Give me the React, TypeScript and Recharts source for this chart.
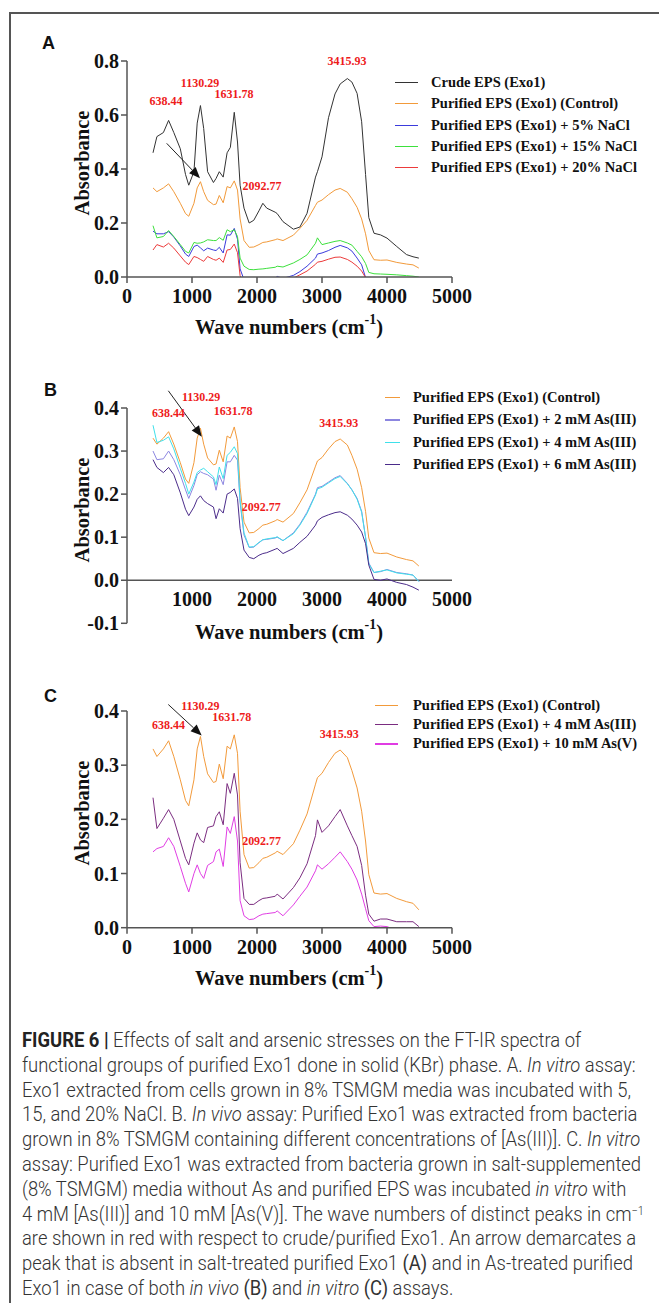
import React from 'react'
import { LineChart, Line, XAxis, YAxis, ReferenceLine, ReferenceDot } from 'recharts'

const WAVE = [400, 460, 560, 640, 720, 820, 900, 950, 1030, 1080, 1130, 1180, 1240, 1330, 1370, 1420, 1480, 1540, 1590, 1650, 1700, 1740, 1800, 1880, 1950, 2030, 2090, 2150, 2280, 2310, 2400, 2560, 2660, 2770, 2900, 2930, 3000, 3100, 3200, 3280, 3390, 3460, 3540, 3610, 3670, 3720, 3800, 3900, 4000, 4150, 4300, 4400, 4490]

const CRUDE = [0.46, 0.52, 0.535, 0.58, 0.535, 0.475, 0.38, 0.34, 0.39, 0.57, 0.635, 0.55, 0.39, 0.35, 0.365, 0.39, 0.37, 0.46, 0.48, 0.61, 0.5, 0.34, 0.255, 0.2, 0.21, 0.245, 0.273, 0.255, 0.24, 0.235, 0.205, 0.177, 0.185, 0.236, 0.37, 0.39, 0.445, 0.59, 0.678, 0.715, 0.735, 0.722, 0.68, 0.575, 0.38, 0.22, 0.162, 0.156, 0.144, 0.113, 0.083, 0.075, 0.07]
const CONTROL = [0.33, 0.316, 0.33, 0.345, 0.316, 0.273, 0.235, 0.225, 0.273, 0.33, 0.353, 0.316, 0.284, 0.268, 0.27, 0.302, 0.275, 0.335, 0.33, 0.356, 0.322, 0.215, 0.135, 0.11, 0.111, 0.12, 0.128, 0.13, 0.138, 0.141, 0.135, 0.155, 0.18, 0.21, 0.265, 0.277, 0.285, 0.305, 0.322, 0.328, 0.314, 0.29, 0.258, 0.215, 0.16, 0.098, 0.064, 0.062, 0.063, 0.054, 0.048, 0.045, 0.033]
const NACL5 = [0.17, 0.16, 0.16, 0.168, 0.148, 0.115, 0.085, 0.076, 0.113, 0.118, 0.108, 0.097, 0.107, 0.1, 0.098, 0.11, 0.089, 0.156, 0.155, 0.18, 0.14, 0.03, -0.01, -0.02, -0.02, -0.015, -0.012, -0.01, -0.004, 0.002, -0.005, 0.006, 0.02, 0.04, 0.07, 0.085, 0.089, 0.098, 0.11, 0.117, 0.108, 0.096, 0.07, 0.045, -0.002, -0.02, -0.03, -0.03, -0.03, -0.035, -0.04, -0.04, -0.045]
const NACL15 = [0.19, 0.145, 0.15, 0.172, 0.15, 0.12, 0.095, 0.089, 0.128, 0.125, 0.126, 0.13, 0.138, 0.135, 0.135, 0.146, 0.136, 0.175, 0.168, 0.175, 0.15, 0.07, 0.04, 0.028, 0.027, 0.029, 0.03, 0.032, 0.036, 0.04, 0.037, 0.052, 0.065, 0.082, 0.125, 0.145, 0.12, 0.126, 0.132, 0.135, 0.126, 0.118, 0.095, 0.075, 0.05, 0.017, 0.012, 0.011, 0.01, 0.008, 0.005, 0.003, 0]
const NACL20 = [0.1, 0.12, 0.111, 0.125, 0.107, 0.078, 0.055, 0.046, 0.076, 0.072, 0.065, 0.058, 0.076, 0.065, 0.062, 0.07, 0.054, 0.1, 0.102, 0.122, 0.09, 0.005, -0.03, -0.045, -0.045, -0.04, -0.038, -0.036, -0.03, -0.026, -0.025, -0.004, 0.008, 0.022, 0.047, 0.055, 0.058, 0.066, 0.073, 0.074, 0.065, 0.055, 0.04, 0.022, -0.002, -0.03, -0.05, -0.05, -0.05, -0.055, -0.06, -0.06, -0.065]

const AS3_2 = [0.3, 0.28, 0.282, 0.3, 0.28, 0.245, 0.21, 0.19, 0.22, 0.245, 0.252, 0.248, 0.245, 0.235, 0.209, 0.244, 0.222, 0.275, 0.275, 0.29, 0.279, 0.18, 0.105, 0.076, 0.077, 0.087, 0.094, 0.095, 0.098, 0.1, 0.092, 0.11, 0.13, 0.158, 0.2, 0.215, 0.218, 0.228, 0.238, 0.243, 0.225, 0.21, 0.19, 0.16, 0.1, 0.04, 0.018, 0.02, 0.025, 0.018, 0.015, 0.012, -0.003]
const AS3_4 = [0.36, 0.32, 0.325, 0.333, 0.305, 0.26, 0.225, 0.2, 0.228, 0.25, 0.256, 0.26, 0.252, 0.24, 0.222, 0.263, 0.236, 0.29, 0.297, 0.31, 0.294, 0.185, 0.11, 0.077, 0.078, 0.088, 0.094, 0.096, 0.099, 0.101, 0.092, 0.108, 0.128, 0.155, 0.198, 0.212, 0.216, 0.226, 0.236, 0.241, 0.224, 0.21, 0.188, 0.158, 0.1, 0.038, 0.018, 0.021, 0.024, 0.017, 0.014, 0.012, -0.003]
const AS3_6 = [0.28, 0.262, 0.25, 0.262, 0.245, 0.203, 0.165, 0.15, 0.17, 0.188, 0.196, 0.185, 0.178, 0.17, 0.143, 0.166, 0.156, 0.2, 0.204, 0.212, 0.19, 0.12, 0.07, 0.053, 0.05, 0.058, 0.062, 0.064, 0.072, 0.074, 0.062, 0.074, 0.088, 0.102, 0.128, 0.138, 0.146, 0.152, 0.157, 0.159, 0.151, 0.142, 0.128, 0.112, 0.085, 0.035, 0.002, 0, 0.003, -0.005, -0.01, -0.016, -0.023]

const VITRO_AS3 = [0.24, 0.183, 0.202, 0.218, 0.2, 0.16, 0.128, 0.116, 0.156, 0.175, 0.162, 0.157, 0.185, 0.188, 0.205, 0.214, 0.19, 0.266, 0.248, 0.285, 0.245, 0.12, 0.054, 0.043, 0.043, 0.05, 0.054, 0.055, 0.058, 0.062, 0.053, 0.074, 0.092, 0.118, 0.17, 0.199, 0.176, 0.188, 0.205, 0.218, 0.188, 0.17, 0.15, 0.115, 0.06, 0.025, 0.012, 0.016, 0.016, 0.011, 0.011, 0.011, 0.002]
const VITRO_AS5 = [0.14, 0.146, 0.15, 0.166, 0.15, 0.113, 0.082, 0.066, 0.1, 0.116, 0.1, 0.091, 0.115, 0.122, 0.14, 0.145, 0.113, 0.186, 0.174, 0.205, 0.16, 0.05, 0.022, 0.015, 0.016, 0.022, 0.025, 0.026, 0.028, 0.031, 0.022, 0.042, 0.058, 0.075, 0.105, 0.116, 0.108, 0.118, 0.13, 0.14, 0.122, 0.108, 0.088, 0.062, 0.035, 0.013, 0.002, 0.003, 0.002, -0.005, -0.01, -0.012, -0.015]

const PEAK_LABELS = ['638.44', '1130.29', '1631.78', '2092.77', '3415.93']
// label centres [wave, absorbance] per panel
const PEAK_POS_A = [[600, 0.652], [1123, 0.719], [1646, 0.678], [2077, 0.337], [3385, 0.8]]
const PEAK_POS_B = [[637, 0.388], [1140, 0.425], [1633, 0.394], [2065, 0.17], [3259, 0.365]]
const PEAK_POS_C = [[640, 0.375], [1128, 0.41], [1612, 0.389], [2071, 0.16], [3266, 0.358]]
const ARROW_A = [[611, 0.495], [1123, 0.366]]
const ARROW_B = [[636, 0.44], [1151, 0.333]]
const ARROW_C = [[635, 0.412], [1149, 0.355]]

const SERIES_A = [
  { key: 'crude', name: 'Crude EPS (Exo1)', values: CRUDE, color: '#333333' },
  { key: 'control', name: 'Purified EPS (Exo1) (Control)', values: CONTROL, color: '#f29a3a' },
  { key: 'n5', name: 'Purified EPS (Exo1) + 5% NaCl', values: NACL5, color: '#3b3bdc' },
  { key: 'n15', name: 'Purified EPS (Exo1) + 15% NaCl', values: NACL15, color: '#3de03d' },
  { key: 'n20', name: 'Purified EPS (Exo1) + 20% NaCl', values: NACL20, color: '#ec3b3b' },
]
const SERIES_B = [
  { key: 'control', name: 'Purified EPS (Exo1) (Control)', values: CONTROL, color: '#f29a3a' },
  { key: 'a2', name: 'Purified EPS (Exo1) + 2 mM As(III)', values: AS3_2, color: '#8c86e0' },
  { key: 'a4', name: 'Purified EPS (Exo1) + 4 mM As(III)', values: AS3_4, color: '#3fe0ea' },
  { key: 'a6', name: 'Purified EPS (Exo1) + 6 mM As(III)', values: AS3_6, color: '#4a2b8a' },
]
const SERIES_C = [
  { key: 'control', name: 'Purified EPS (Exo1) (Control)', values: CONTROL, color: '#f29a3a' },
  { key: 'v3', name: 'Purified EPS (Exo1) + 4 mM As(III)', values: VITRO_AS3, color: '#7a2c80' },
  { key: 'v5', name: 'Purified EPS (Exo1) + 10 mM As(V)', values: VITRO_AS5, color: '#e03ce3' },
]

const SERIF = '"Liberation Serif", "Times New Roman", serif'
const AXIS = '#555'
const TICK = { fontFamily: SERIF, fontSize: 20, fontWeight: 700, fill: '#111' }
const PLOT_LEFT = 127
const PLOT_RIGHT = 452
const Y_W = 60
const PAD = 40

function XTick(props: any) {
  const { x, y, payload, lift } = props
  return (
    <text x={x} y={y - lift} dy="0.71em" textAnchor="middle" style={TICK as any} fill="#111">
      {payload.value}
    </text>
  )
}

function Arrow(props: any) {
  const { x1, y1, x2, y2 } = props
  const a = Math.atan2(y2 - y1, x2 - x1)
  const bx = x2 - 11 * Math.cos(a)
  const by = y2 - 11 * Math.sin(a)
  const px = -Math.sin(a) * 4.5
  const py = Math.cos(a) * 4.5
  return (
    <g>
      <line x1={x1} y1={y1} x2={bx} y2={by} stroke="#222" strokeWidth={1} />
      <polygon points={`${x2},${y2} ${bx + px},${by + py} ${bx - px},${by - py}`} fill="#111" />
    </g>
  )
}

function Panel(p: any) {
  const { series, plotTop, plotBottom, yDomain, yTicks, xTicks, peaks, arrow, zeroAxis } = p
  const rows = WAVE.map((w, i) => {
    const r: any = { w }
    series.forEach((s: any) => { r[s.key] = s.values[i] })
    return r
  })
  const plotH = plotBottom - plotTop
  const lift = zeroAxis ? plotH * (0 - yDomain[0]) / (yDomain[1] - yDomain[0]) : 0
  const height = plotH + PAD + 30 + 10
  return (
    <div style={{ position: 'absolute', left: 0, top: plotTop - PAD }}>
      <LineChart width={659} height={height} data={rows}
        margin={{ top: PAD, right: 659 - PLOT_RIGHT, left: PLOT_LEFT - Y_W, bottom: 10 }}>
        <XAxis type="number" dataKey="w" domain={[0, 5000]} ticks={xTicks} interval={0}
          allowDataOverflow height={30} axisLine={zeroAxis ? false : { stroke: AXIS, strokeWidth: 1.5 }}
          tickLine={zeroAxis ? false : { stroke: AXIS, strokeWidth: 1.5 }} tickSize={6} tickMargin={6}
          tick={(t: any) => <XTick {...t} lift={lift} />} />
        <YAxis type="number" domain={yDomain} ticks={yTicks} interval={0} allowDataOverflow width={Y_W}
          axisLine={{ stroke: AXIS, strokeWidth: 1.5 }} tickLine={{ stroke: AXIS, strokeWidth: 1.5 }}
          tickSize={6} tickMargin={2} tick={TICK} tickFormatter={(v: number) => v.toFixed(1)} />
        {zeroAxis && <ReferenceLine y={0} stroke={AXIS} strokeWidth={1.5} />}
        {series.map((s: any) => (
          <Line key={s.key} dataKey={s.key} stroke={s.color} strokeWidth={1} dot={false}
            activeDot={false} isAnimationActive={false} />
        ))}
        <ReferenceLine segment={[{ x: arrow[0][0], y: arrow[0][1] }, { x: arrow[1][0], y: arrow[1][1] }]}
          ifOverflow="visible" shape={Arrow} />
        {PEAK_LABELS.map((t, i) => (
          <ReferenceDot key={t} x={peaks[i][0]} y={peaks[i][1]} r={0} ifOverflow="visible"
            fill="none" stroke="none"
            label={{ value: t, position: 'center', fill: '#ee1c1c', fontSize: 12, fontWeight: 700, fontFamily: SERIF }} />
        ))}
      </LineChart>
    </div>
  )
}

function Legend({ series, top, gap, lineX, lineW, textX }: any) {
  return (
    <>
      {series.map((s: any, i: number) => (
        <div key={s.key}>
          <div style={{ position: 'absolute', left: lineX, top: top + i * gap, width: lineW, height: 1.2, background: s.color }} />
          <div style={{ position: 'absolute', left: textX, top: top + i * gap - 9, fontFamily: SERIF, fontWeight: 700, fontSize: 14.5, color: '#111', whiteSpace: 'nowrap', lineHeight: '18px' }}>
            {s.name}
          </div>
        </div>
      ))}
    </>
  )
}

function AxisTitles({ xTitleY, yTitleY }: any) {
  return (
    <>
      <div style={{ position: 'absolute', left: 289, top: xTitleY, transform: 'translate(-50%, -50%)', fontFamily: SERIF, fontWeight: 700, fontSize: 20.5, color: '#111', whiteSpace: 'nowrap' }}>
        Wave numbers (cm<sup style={{ fontSize: 14, verticalAlign: 'top', position: 'relative', top: -4 }}>-1</sup>)
      </div>
      <div style={{ position: 'absolute', left: 82, top: yTitleY, transform: 'translate(-50%, -50%) rotate(-90deg)', fontFamily: SERIF, fontWeight: 700, fontSize: 20.5, color: '#111', whiteSpace: 'nowrap' }}>
        Absorbance
      </div>
    </>
  )
}

const CAPTION: React.ReactNode[] = [
  <><b style={{ fontWeight: 700, color: '#222' }}>FIGURE 6 |</b> Effects of salt and arsenic stresses on the FT-IR spectra of</>,
  <>functional groups of purified Exo1 done in solid (KBr) phase. A. <i>In vitro</i> assay:</>,
  <>Exo1 extracted from cells grown in 8% TSMGM media was incubated with 5,</>,
  <>15, and 20% NaCl. B. <i>In vivo</i> assay: Purified Exo1 was extracted from bacteria</>,
  <>grown in 8% TSMGM containing different concentrations of [As(III)]. C. <i>In vitro</i></>,
  <>assay: Purified Exo1 was extracted from bacteria grown in salt-supplemented</>,
  <>(8% TSMGM) media without As and purified EPS was incubated <i>in vitro</i> with</>,
  <>4 mM [As(III)] and 10 mM [As(V)]. The wave numbers of distinct peaks in cm<sup style={{ fontSize: 12, verticalAlign: 'top', position: 'relative', top: -3 }}>−1</sup></>,
  <>are shown in red with respect to crude/purified Exo1. An arrow demarcates a</>,
  <>peak that is absent in salt-treated purified Exo1 <b>(A)</b> and in As-treated purified</>,
  <>Exo1 in case of both <i>in vivo</i> <b>(B)</b> and <i>in vitro</i> <b>(C)</b> assays.</>,
]

const letter = (t: string, x: number, y: number) => (
  <div style={{ position: 'absolute', left: x, top: y, fontFamily: '"Liberation Sans", Arial, sans-serif', fontWeight: 700, fontSize: 18, color: '#111', lineHeight: '18px' }}>{t}</div>
)

export default function App() {
  return (
    <div style={{ position: 'absolute', left: 0, top: 0, width: 659, height: 1306, background: '#fff', overflow: 'hidden' }}>
      <div style={{ position: 'absolute', left: 9, top: 12, width: 650, height: 1.5, background: '#555' }} />
      <div style={{ position: 'absolute', left: 9, top: 12, width: 1.5, height: 1291, background: '#555' }} />

      {letter('A', 42, 34)}
      <Panel series={SERIES_A} plotTop={61} plotBottom={277} yDomain={[0, 0.8]} yTicks={[0, 0.2, 0.4, 0.6, 0.8]}
        xTicks={[0, 1000, 2000, 3000, 4000, 5000]} peaks={PEAK_POS_A} arrow={ARROW_A} zeroAxis={false} />
      <Legend series={SERIES_A} top={82} gap={21.3} lineX={395} lineW={23} textX={431} />
      <AxisTitles xTitleY={327} yTitleY={163} />

      {letter('B', 44, 381)}
      <Panel series={SERIES_B} plotTop={407.7} plotBottom={623} yDomain={[-0.1, 0.4]} yTicks={[-0.1, 0, 0.1, 0.2, 0.3, 0.4]}
        xTicks={[1000, 2000, 3000, 4000, 5000]} peaks={PEAK_POS_B} arrow={ARROW_B} zeroAxis={true} />
      <Legend series={SERIES_B} top={397} gap={22.4} lineX={385} lineW={15} textX={413} />
      <AxisTitles xTitleY={632} yTitleY={510} />

      {letter('C', 44, 687)}
      <Panel series={SERIES_C} plotTop={711} plotBottom={927.7} yDomain={[0, 0.4]} yTicks={[0, 0.1, 0.2, 0.3, 0.4]}
        xTicks={[0, 1000, 2000, 3000, 4000, 5000]} peaks={PEAK_POS_C} arrow={ARROW_C} zeroAxis={false} />
      <Legend series={SERIES_C} top={705} gap={19.2} lineX={375} lineW={23} textX={413} />
      <AxisTitles xTitleY={978} yTitleY={813} />

      {CAPTION.map((line, i) => (
        <div key={i} style={{ position: 'absolute', left: 22, top: 1040 + i * 24.8, transform: 'translateY(-50%) scaleX(0.92)', transformOrigin: 'left center', fontFamily: 'Roboto, "Liberation Sans", sans-serif', fontWeight: 300, fontSize: 20, color: '#333', whiteSpace: 'nowrap', lineHeight: '24px' }}>
          {line}
        </div>
      ))}
    </div>
  )
}
